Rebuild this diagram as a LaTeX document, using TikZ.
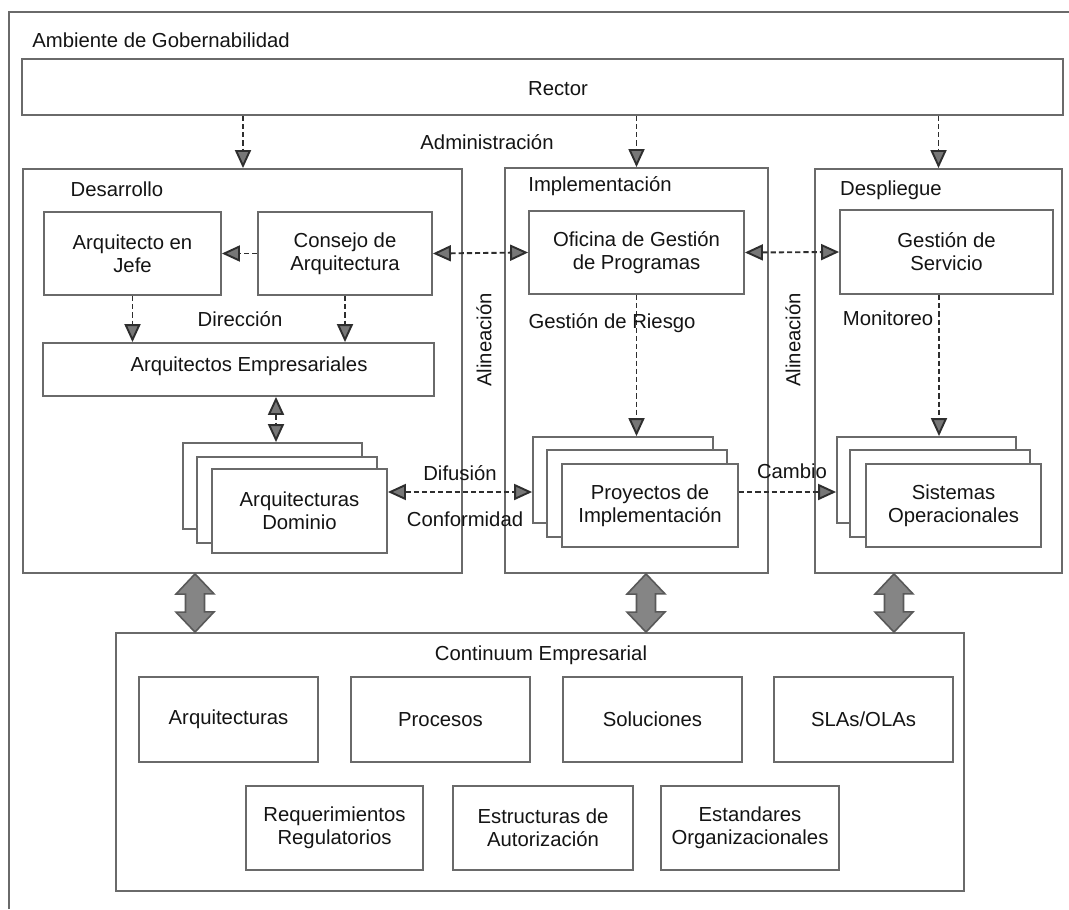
\documentclass[tikz,border=0pt]{standalone}
\usepackage{fontspec}
\setmainfont{Liberation Sans}
\usetikzlibrary{arrows.meta}
\definecolor{boxline}{HTML}{6A6A6A}
\definecolor{dashline}{HTML}{2E2E2E}
\definecolor{headfill}{HTML}{777777}
\definecolor{blockfill}{HTML}{858585}
\definecolor{txt}{HTML}{141414}

\begin{document}
\begin{tikzpicture}[x=0.5pt,y=-0.5pt,
  every node/.style={font=\fontsize{10.15}{11.5}\selectfont, text=txt},
  box/.style={draw=boxline, line width=0.9pt, fill=white, inner sep=0pt, align=center, rectangle},
  lbl/.style={inner sep=0pt, align=center},
  flow/.style={draw=dashline, line width=0.95pt, dash pattern=on 2.6pt off 1.5pt,
    -{Triangle[length=9pt,width=8pt,fill=headfill]}},
  flowboth/.style={flow,
    {Triangle[length=9pt,width=8pt,fill=headfill]}-{Triangle[length=9pt,width=8pt,fill=headfill]}},
  block/.style={draw=black!65, line width=0.8pt, fill=blockfill, line join=miter}
]
\useasboundingbox (0,0) rectangle (1069,909);

% governance frame (open towards the right and bottom)
\draw[boxline, line width=0.9pt] (9,909) -- (9,12) -- (1069,12);
\node[lbl, anchor=west] (amb) at (32,40) {Ambiente de Gobernabilidad};

% steering layer
\node[box, minimum width=520.5pt, minimum height=28pt] (rector) at (542.5,87) {};
\node[lbl] (rectortxt) at (558,89) {Rector};
\node[lbl] (admin) at (487,142) {Administración};

% three lanes
\node[box, minimum width=219.5pt, minimum height=202pt] (desarrollo) at (242.5,371) {};
\node[lbl] (desarrollotxt) at (117,189) {Desarrollo};
\node[box, minimum width=131.5pt, minimum height=202.5pt] (implem) at (636.5,370.5) {};
\node[lbl] (implemtxt) at (600,186) {Implementación};
\node[box, minimum width=123.5pt, minimum height=202pt] (despliegue) at (938.5,371) {};
\node[lbl] (desplieguetxt) at (891,190) {Despliegue};

% development lane
\node[box, minimum width=88.5pt, minimum height=41.5pt] (jefe) at (132.5,253.5) {Arquitecto en\\Jefe};
\node[box, minimum width=87pt, minimum height=41.5pt] (consejo) at (345,253.5) {Consejo de\\Arquitectura};
\node[lbl] (direccion) at (240,319) {Dirección};
\node[box, minimum width=195.5pt, minimum height=26.5pt] (empres) at (238.5,369.5) {};
\node[lbl] (emprestxt) at (249,366) {Arquitectos Empresariales};
\node[box, minimum width=89.5pt, minimum height=43pt] (domback) at (272.5,486) {};
\node[box, minimum width=90pt, minimum height=43pt] (dommid) at (287,500) {};
\node[box, minimum width=87.5pt, minimum height=42pt] (domfront) at (299.5,511) {Arquitecturas\\Dominio};

% implementation lane
\node[box, minimum width=107.5pt, minimum height=41.5pt] (oficina) at (636.5,252.5) {Oficina de Gestión\\de Programas};
\node[box, minimum width=90pt, minimum height=43pt] (proyback) at (623,480) {};
\node[box, minimum width=90pt, minimum height=43.5pt] (proymid) at (637,493.5) {};
\node[box, minimum width=88pt, minimum height=41.5pt] (proyfront) at (650,505.5) {Proyectos de\\Implementación};

% deployment lane
\node[box, minimum width=106.5pt, minimum height=42pt] (servicio) at (946.5,252) {Gestión de\\Servicio};
\node[lbl] (monitoreo) at (888,318) {Monitoreo};
\node[box, minimum width=89.5pt, minimum height=43pt] (sisback) at (926.5,480) {};
\node[box, minimum width=90pt, minimum height=43.5pt] (sismid) at (940,493.5) {};
\node[box, minimum width=87.5pt, minimum height=41.5pt] (sisfront) at (953.5,505.5) {Sistemas\\Operacionales};

% alignment labels between lanes
\node[lbl, rotate=90] (alin1) at (484,340) {Alineación};
\node[lbl, rotate=90] (alin2) at (793,340) {Alineación};

% enterprise continuum
\node[box, minimum width=424pt, minimum height=129pt] (continuum) at (540,762) {};
\node[lbl] (continuumtxt) at (541,655) {Continuum Empresarial};
\node[box, minimum width=89.5pt, minimum height=42.5pt] (arqs) at (228.5,719.5) {Arquitecturas};
\node[box, minimum width=89.5pt, minimum height=42.5pt] (procesos) at (440.5,719.5) {Procesos};
\node[box, minimum width=89.5pt, minimum height=42.5pt] (soluciones) at (652.5,719.5) {Soluciones};
\node[box, minimum width=89.5pt, minimum height=42.5pt] (slas) at (863.5,719.5) {SLAs/OLAs};
\node[box, minimum width=88.5pt, minimum height=42pt] (req) at (334.5,828) {Requerimientos\\Regulatorios};
\node[box, minimum width=90pt, minimum height=42pt] (estr) at (543,828) {Estructuras de\\Autorización};
\node[box, minimum width=89pt, minimum height=42pt] (estand) at (750,828) {Estandares\\Organizacionales};

% guide coordinates for connector positions
\coordinate (xa) at (243,0);
\coordinate (xe) at (276,0);
\coordinate (xs) at (939,0);
\coordinate (yd) at (0,492);

% dashed relations
\draw[flow] (xa |- rector.south) -- (xa |- desarrollo.north);
\draw[flow] (implem.north |- rector.south) -- (implem.north);
\draw[flow] (despliegue.north |- rector.south) -- (despliegue.north);
\draw[flow] (consejo.west) -- (jefe.east);
\draw[flow] (jefe.south) -- (jefe.south |- empres.north);
\draw[flow] (consejo.south) -- (consejo.south |- empres.north);
\draw[flowboth] (xe |- empres.south) -- (xe |- domback.north);
\draw[flowboth] (consejo.east) -- (oficina.west);
\draw[flowboth] (oficina.east) -- (servicio.west);
\draw[flow] (oficina.south) -- (oficina.south |- proyback.north);
\draw[flow] (xs |- servicio.south) -- (xs |- sisback.north);
\draw[flowboth] (domfront.east |- yd) -- (proyback.west |- yd);
\draw[flow] (proyfront.east |- yd) -- (sisback.west |- yd);

\node[lbl] (riesgo) at (612,323) {Gestión de Riesgo};
\node[lbl] (difusion) at (460,473) {Difusión};
\node[lbl] (conformidad) at (465,519) {Conformidad};
\node[lbl] (cambio) at (792,471) {Cambio};

% thick two-way links to the continuum
\coordinate (b1) at (195,0);
\coordinate (b2) at (646,0);
\coordinate (b3) at (894,0);
\foreach \b/\lane in {b1/desarrollo, b2/implem, b3/despliegue}{
  \draw[block] (\b |- \lane.south) -- ++(19,20) -- ++(-9.5,0) -- ++(0,18) -- ++(9.5,0)
    -- (\b |- continuum.north) -- ++(-19,-20) -- ++(9.5,0) -- ++(0,-18) -- ++(-9.5,0) -- cycle;
}
\end{tikzpicture}
\end{document}
